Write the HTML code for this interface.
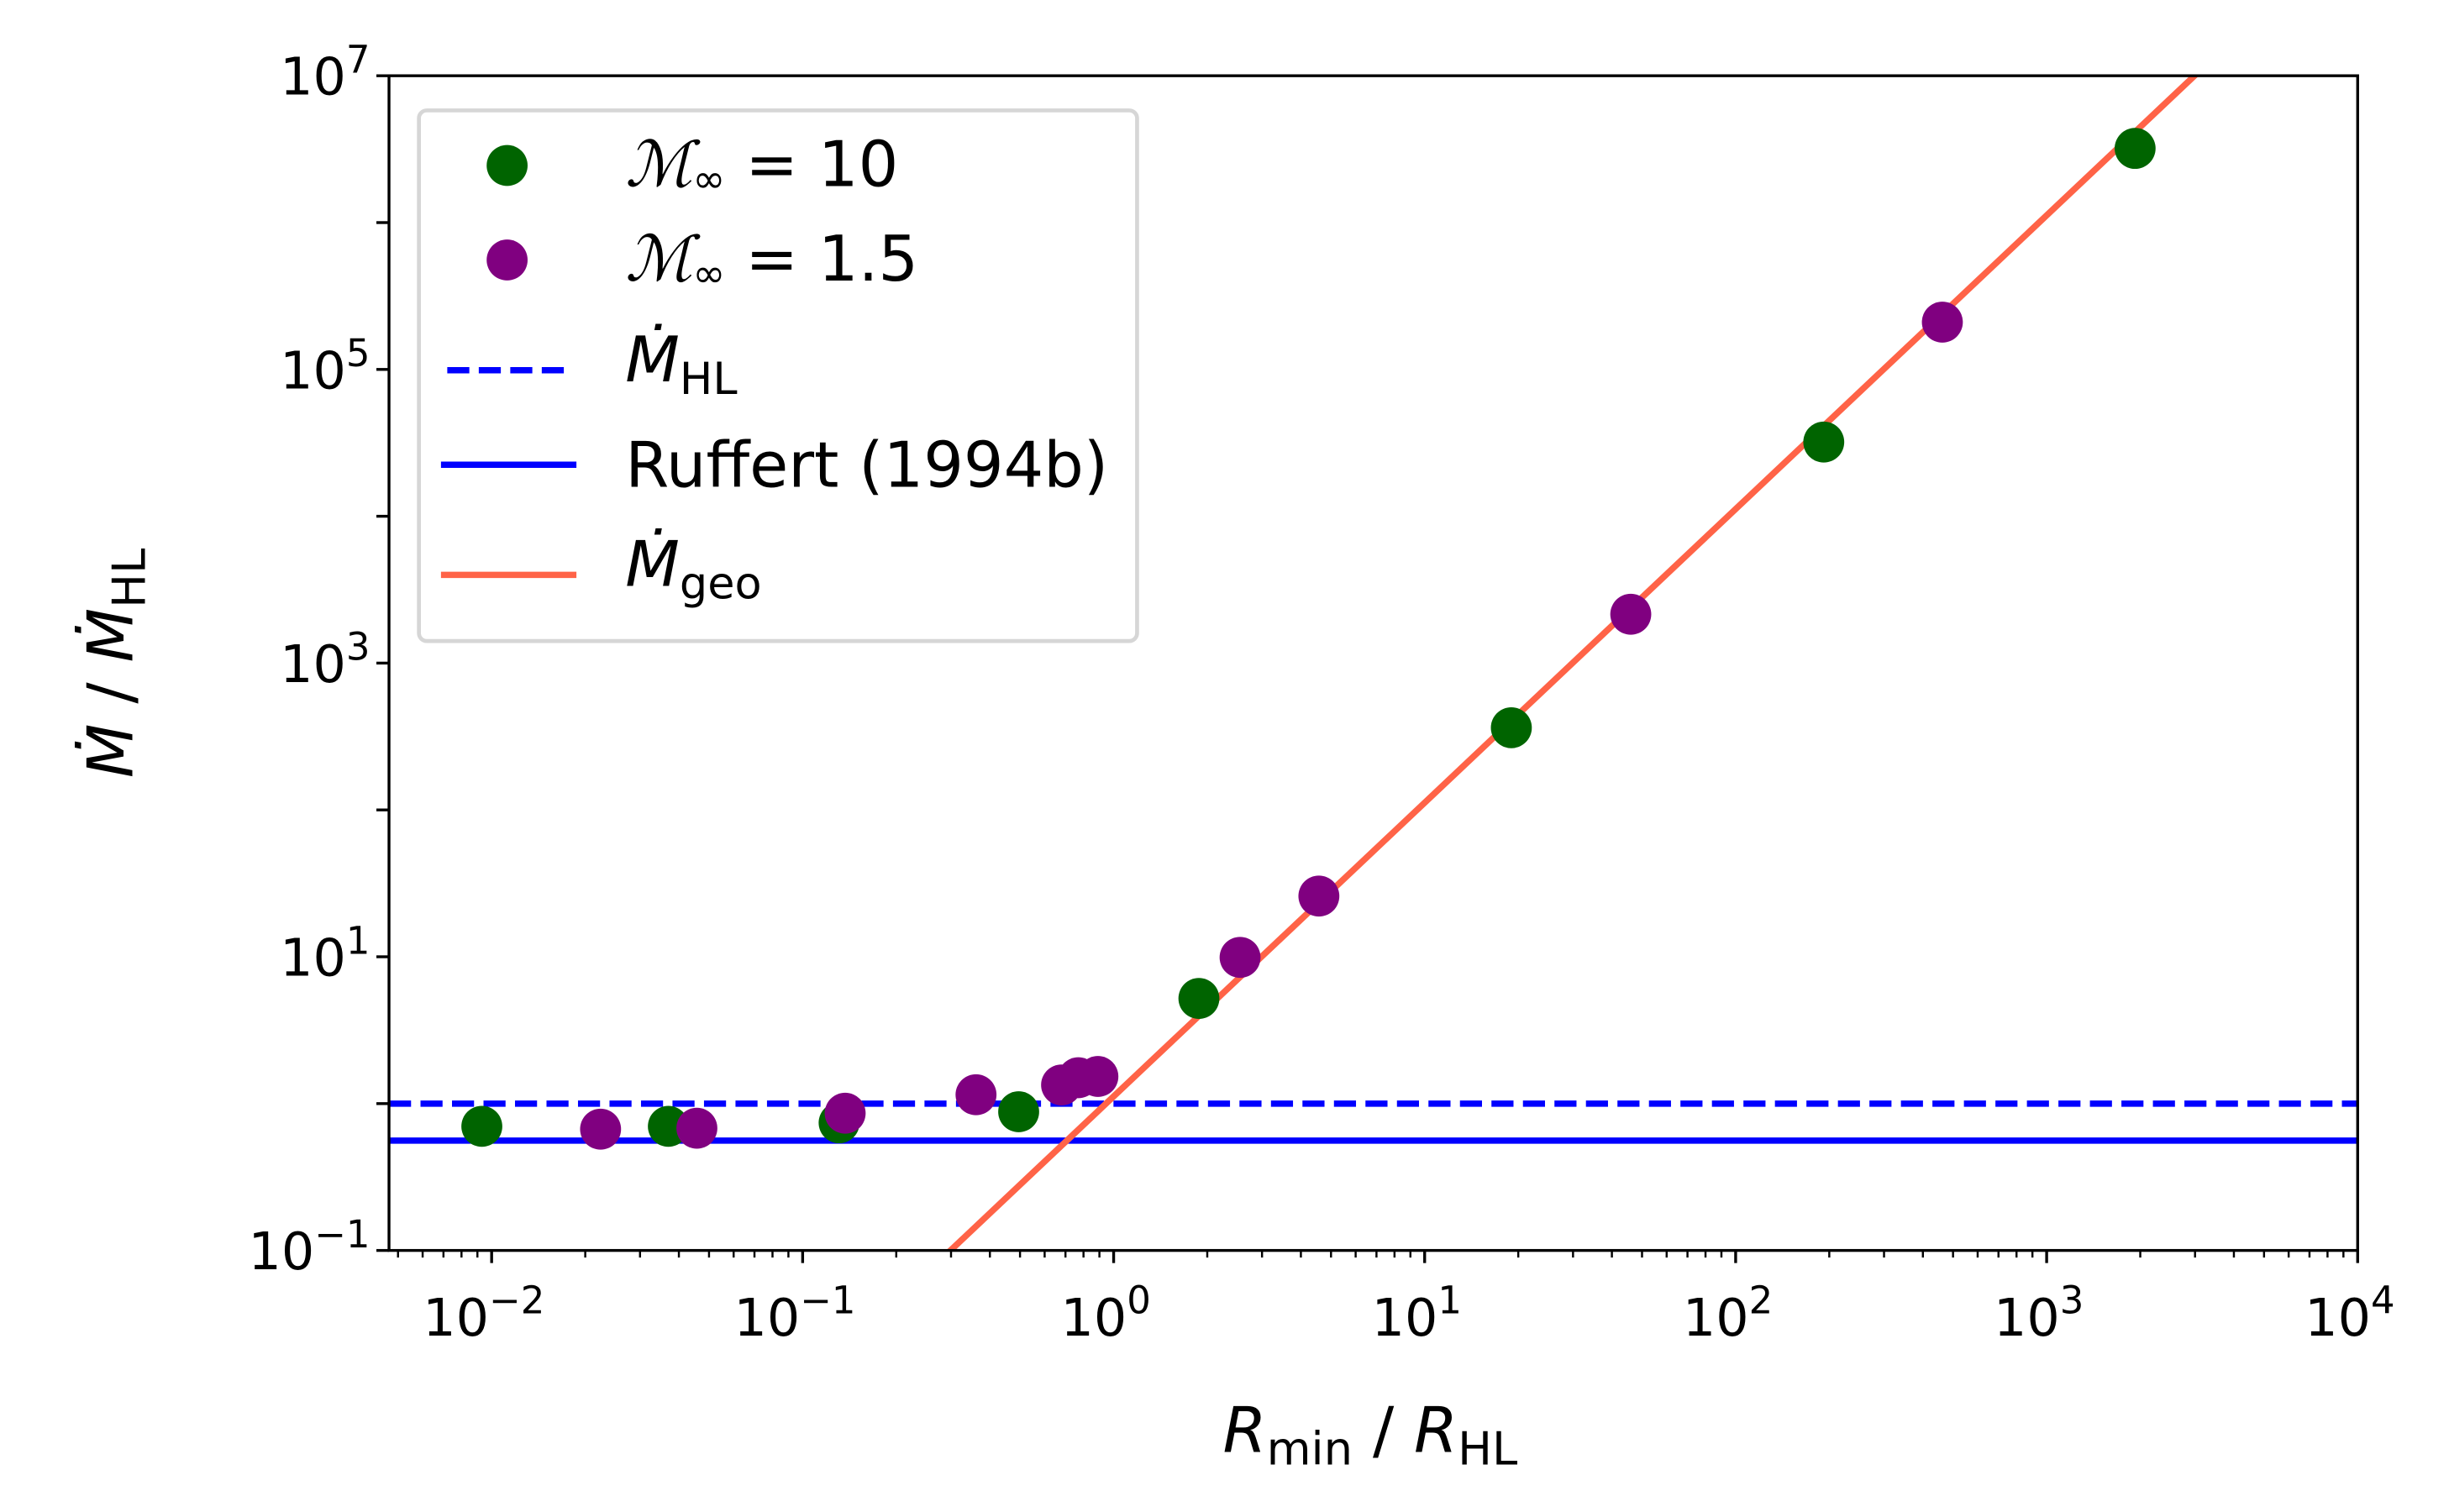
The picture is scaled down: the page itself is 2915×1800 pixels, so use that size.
<!DOCTYPE html>
<html><head><meta charset="utf-8"><style>
html,body{margin:0;padding:0;background:#fff;overflow:hidden}
svg{display:block}
text{font-family:"DejaVu Sans","Liberation Sans",sans-serif;fill:#000}
</style></head><body>
<svg id="chart" width="2915" height="1800" viewBox="0 0 1555 960" xmlns="http://www.w3.org/2000/svg" style="position:absolute;left:0;top:0">
<g id="plot"></g>
</svg>
<script>
const greenX=[0.0093,0.037,0.131,0.495,1.88,19,192,1925];
const greenY=[0.70,0.70,0.74,0.88,5.2,363,3.2e4,3.2e6];
const purpleX=[0.0224,0.0457,0.137,0.361,0.68,0.77,0.89,2.55,4.57,46,462];
const purpleY=[0.67,0.68,0.86,1.15,1.34,1.5,1.53,9.9,25.9,2150,2.1e5];
const hlLevel=[1.0];
const ruffertLevel=[0.56];
const geoCoef=[1.12];
const xTickExps=[-2,-1,0,1,2,3,4];
const yTickExps=[-1,1,3,5,7];

const L=247,R=1497,T=48,B=794;
const xMinE=-2.33,xMaxE=4,yMinE=-1,yMaxE=7;
const sx=v=>L+(Math.log10(v)-xMinE)/(xMaxE-xMinE)*(R-L);
const sy=v=>B-(Math.log10(v)-yMinE)/(yMaxE-yMinE)*(B-T);
const NS="http://www.w3.org/2000/svg";
const svg=document.getElementById('chart');
const plot=document.getElementById('plot');
function mk(tag,attrs,parent){const e=document.createElementNS(NS,tag);for(const k in attrs)e.setAttribute(k,attrs[k]);(parent||svg).appendChild(e);return e;}

const defs=mk('defs',{});
const cp=mk('clipPath',{id:'clip'},defs);
mk('rect',{x:L,y:T,width:R-L,height:B-T},cp);
const clipped=mk('g',{'clip-path':'url(#clip)'},plot);

let l=mk('line',{x1:L,x2:R,y1:sy(hlLevel[0]),y2:sy(hlLevel[0]),stroke:'#0000ff','stroke-width':4,'stroke-dasharray':'14 6'},clipped);


l=mk('line',{x1:L,x2:R,y1:sy(ruffertLevel[0]),y2:sy(ruffertLevel[0]),stroke:'#0000ff','stroke-width':4},clipped);


const gx1=0.2,gx2=5000;
l=mk('line',{x1:sx(gx1),y1:sy(geoCoef[0]*gx1*gx1),x2:sx(gx2),y2:sy(geoCoef[0]*gx2*gx2),stroke:'#ff6347','stroke-width':4},clipped);



const ptsG=mk('g',{},plot);
greenX.forEach((x,i)=>{const c=mk('circle',{cx:sx(x),cy:sy(greenY[i]),r:13,fill:'#006400'},ptsG);

});
purpleX.forEach((x,i)=>{const c=mk('circle',{cx:sx(x),cy:sy(purpleY[i]),r:13,fill:'#800080'},ptsG);

});

mk('rect',{x:L,y:T,width:R-L,height:B-T,fill:'none',stroke:'#000','stroke-width':1.8});

for(let e=-3;e<=4;e++){for(let m=1;m<10;m++){const v=m*Math.pow(10,e);const lv=Math.log10(v);if(lv<xMinE-1e-9||lv>xMaxE+1e-9)continue;const X=sx(v);mk('line',{x1:X,x2:X,y1:B,y2:B+(m==1?8:4.5),stroke:'#000','stroke-width':m==1?1.8:1.3});}}
xTickExps.forEach(e=>{const t=mk('text',{x:sx(Math.pow(10,e))-5,y:B+54,'font-size':33,'text-anchor':'middle'});


t.innerHTML='10<tspan dy="-14" font-size="24">'+(e<0?'\u2212'+(-e):e)+'</tspan>';});
for(let e=yMinE;e<=yMaxE;e++){const Y=sy(Math.pow(10,e));mk('line',{x1:L,x2:L-8,y1:Y,y2:Y,stroke:'#000','stroke-width':1.8});}
yTickExps.forEach(e=>{const t=mk('text',{x:L-12,y:sy(Math.pow(10,e))+12,'font-size':33,'text-anchor':'end'});


t.innerHTML='10<tspan dy="-14" font-size="24">'+(e<0?'\u2212'+(-e):e)+'</tspan>';});
</script>
<svg style="position:absolute;left:0;top:0" width="2915" height="1800" viewBox="0 0 1555 960" xmlns="http://www.w3.org/2000/svg">
<text x="870" y="922" font-size="40" text-anchor="middle"><tspan font-style="italic">R</tspan><tspan font-size="29" dy="8">min</tspan><tspan dy="-8"> / </tspan><tspan font-style="italic">R</tspan><tspan font-size="29" dy="8">HL</tspan></text>
<text transform="translate(84,421) rotate(-90)" font-size="40" text-anchor="middle"><tspan font-style="italic">Ṁ</tspan> / <tspan font-style="italic">Ṁ</tspan><tspan font-size="29" dy="8">HL</tspan></text>
<g>
<rect x="266" y="70" width="456" height="337" rx="5" fill="#fff" fill-opacity="0.8" stroke="#d6d6d6" stroke-width="2.5"/>
<circle cx="322" cy="105" r="13" fill="#006400"/>
<text x="397" y="118" font-size="40"><tspan font-family="Liberation Serif" font-style="italic">ℳ</tspan><tspan font-size="25" dy="4">∞</tspan><tspan dy="-4"> = 10</tspan></text>
<circle cx="322" cy="165" r="13" fill="#800080"/>
<text x="397" y="178" font-size="40"><tspan font-family="Liberation Serif" font-style="italic">ℳ</tspan><tspan font-size="25" dy="4">∞</tspan><tspan dy="-4"> = 1.5</tspan></text>
<line x1="284" x2="364" y1="235" y2="235" stroke="#0000ff" stroke-width="4" stroke-dasharray="14 6"/>
<text x="397" y="242" font-size="40"><tspan font-style="italic">Ṁ</tspan><tspan font-size="28" dy="8">HL</tspan></text>
<line x1="280" x2="366" y1="295" y2="295" stroke="#0000ff" stroke-width="4"/>
<text x="397" y="309" font-size="40">Ruffert (1994b)</text>
<line x1="280" x2="366" y1="365" y2="365" stroke="#ff6347" stroke-width="4"/>
<text x="397" y="372" font-size="40"><tspan font-style="italic">Ṁ</tspan><tspan font-size="28" dy="8">geo</tspan></text>
</g>
</svg>
</body></html>
